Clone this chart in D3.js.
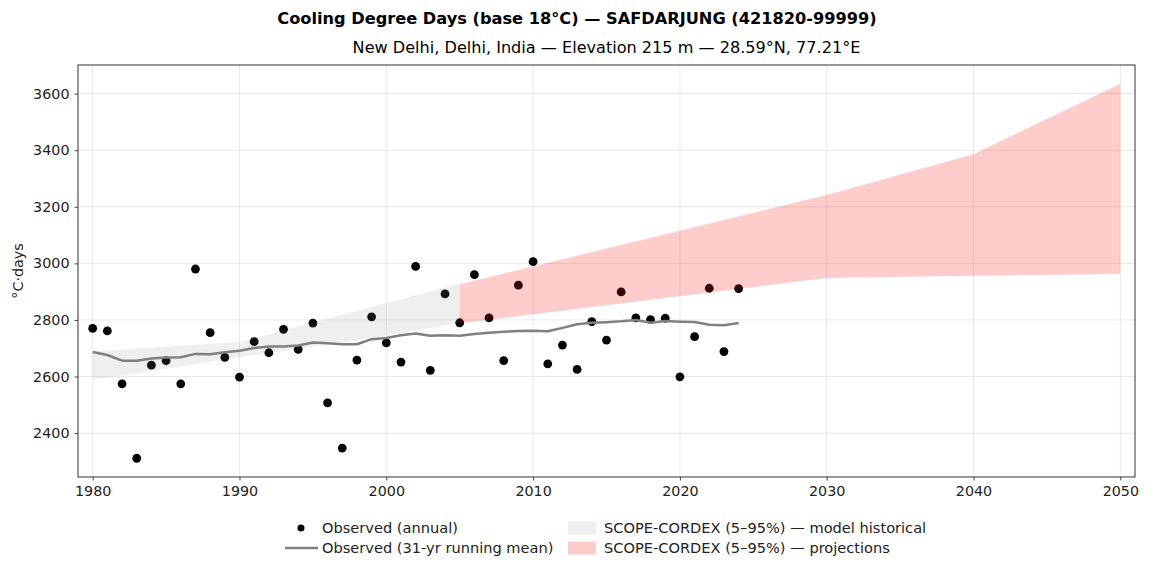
<!DOCTYPE html>
<html>
<head>
<meta charset="utf-8">
<script src="https://cdn.jsdelivr.net/npm/d3@7"></script>
<style>
  body { margin: 0; background: #fff; }
  svg { display: block; font-family: "DejaVu Sans", sans-serif; }
</style>
</head>
<body>
<svg id="chart" width="1155" height="577"></svg>
<script>
// ---- Data ----
const obsYears = [1980,1981,1982,1983,1984,1985,1986,1987,1988,1989,1990,1991,1992,1993,1994,1995,1996,1997,1998,1999,2000,2001,2002,2003,2004,2005,2006,2007,2008,2009,2010,2011,2012,2013,2014,2015,2016,2017,2018,2019,2020,2021,2022,2023,2024];
const obsValues = [2770,2761,2574,2311,2640,2656,2574,2980,2755,2668,2598,2723,2684,2767,2696,2789,2507,2347,2658,2811,2719,2651,2989,2622,2892,2790,2960,2807,2656,2923,3006,2645,2711,2625,2794,2729,2899,2807,2801,2806,2599,2741,2912,2688,2911];
const meanValues = [2687,2676,2656,2656,2664,2667,2668,2680,2679,2686,2691,2701,2706,2706,2710,2720,2718,2714,2714,2732,2736,2746,2752,2744,2746,2744,2750,2755,2758,2761,2762,2760,2772,2785,2790,2792,2795,2800,2790,2796,2794,2793,2783,2781,2789];
const histYears = [1980,1990,2000,2005];
const histLow = [2588,2668,2745,2790];
const histHigh = [2688,2722,2860,2928];
const projYears = [2005,2030,2040,2050];
const projLow = [2788,2948,2956,2962];
const projHigh = [2926,3242,3386,3635];
const xTicks = [1980,1990,2000,2010,2020,2030,2040,2050];
const yTicks = [2400,2600,2800,3000,3200,3400,3600];
const titleText = "Cooling Degree Days (base 18°C) — SAFDARJUNG (421820-99999)";
const subtitleText = "New Delhi, Delhi, India — Elevation 215 m — 28.59°N, 77.21°E";
const yLabel = "°C·days";
const legendItems = ["Observed (annual)", "Observed (31-yr running mean)", "SCOPE-CORDEX (5–95%) — model historical", "SCOPE-CORDEX (5–95%) — projections"];

// ---- Layout ----
const svg = d3.select("#chart");
const L = 78, R = 1135, T = 65, B = 477;
const x = d3.scaleLinear().domain([1979, 2051]).range([L, R]);
const allY = obsValues.concat(projHigh, projLow, histLow, histHigh);
const yMin = d3.min(allY), yMax = d3.max(allY), pad = (yMax - yMin) * 0.05;
const y = d3.scaleLinear().domain([yMin - pad, yMax + pad]).range([B, T]);

// grid
const grid = svg.append("g");
grid.selectAll(".gx").data(xTicks).join("line")
  .attr("x1", d => x(d)).attr("x2", d => x(d)).attr("y1", T).attr("y2", B)
  .attr("stroke", "#b0b0b0").attr("stroke-opacity", 0.35).attr("stroke-width", 0.8);
grid.selectAll(".gy").data(yTicks).join("line")
  .attr("x1", L).attr("x2", R).attr("y1", d => y(d)).attr("y2", d => y(d))
  .attr("stroke", "#b0b0b0").attr("stroke-opacity", 0.35).attr("stroke-width", 0.8);

// observed points
svg.append("g").selectAll("circle").data(obsYears).join("circle")
  .attr("cx", (d) => x(d)).attr("cy", (d, i) => y(obsValues[i])).attr("r", 4.4)
  .attr("fill", "#000");

// running mean
const line = d3.line().x((d, i) => x(obsYears[i])).y(d => y(d));
svg.append("path").datum(meanValues).attr("d", line)
  .attr("fill", "none").attr("stroke", "#808080").attr("stroke-width", 2.5)
  .attr("stroke-linejoin", "round");

// bands
const histArea = d3.area().x((d, i) => x(histYears[i])).y0((d, i) => y(histLow[i])).y1(d => y(d));
svg.append("path").datum(histHigh).attr("d", histArea)
  .attr("fill", "rgb(128,128,128)").attr("fill-opacity", 0.13);
const projArea = d3.area().x((d, i) => x(projYears[i])).y0((d, i) => y(projLow[i])).y1(d => y(d));
svg.append("path").datum(projHigh).attr("d", projArea)
  .attr("fill", "rgb(255,0,0)").attr("fill-opacity", 0.2);

// axes
const xAxis = svg.append("g").attr("transform", `translate(0,${B})`)
  .call(d3.axisBottom(x).tickValues(xTicks).tickFormat(d3.format("d")).tickSizeOuter(0).tickSize(3.5).tickPadding(5));
const yAxis = svg.append("g").attr("transform", `translate(${L},0)`)
  .call(d3.axisLeft(y).tickValues(yTicks).tickFormat(d3.format("d")).tickSizeOuter(0).tickSize(3.5).tickPadding(5));
[xAxis, yAxis].forEach(g => {
  g.select(".domain").remove();
  g.selectAll("text").attr("font-size", 14.3).attr("fill", "#222").attr("font-family", "DejaVu Sans");
  g.selectAll("line").attr("stroke", "#333").attr("stroke-width", 0.9);
});

// frame
svg.append("rect").attr("x", L).attr("y", T).attr("width", R - L).attr("height", B - T)
  .attr("fill", "none").attr("stroke", "#333").attr("stroke-width", 1);

// titles
svg.append("text").attr("x", 577).attr("y", 24).attr("text-anchor", "middle")
  .attr("font-size", 16.2).attr("font-weight", "bold").attr("fill", "#000").text(titleText);
svg.append("text").attr("x", (L + R) / 2).attr("y", 53).attr("text-anchor", "middle")
  .attr("font-size", 16.1).attr("fill", "#000").text(subtitleText);
svg.append("text").attr("transform", `translate(23,${(T + B) / 2}) rotate(-90)`)
  .attr("text-anchor", "middle").attr("font-size", 14.3).attr("fill", "#222").text(yLabel);

// legend
const lg = svg.append("g").attr("font-size", 14.6).attr("fill", "#222");
const row1 = 528, row2 = 548;
lg.append("circle").attr("cx", 301).attr("cy", row1).attr("r", 3.5).attr("fill", "#000");
lg.append("line").attr("x1", 285).attr("x2", 318).attr("y1", row2).attr("y2", row2)
  .attr("stroke", "#808080").attr("stroke-width", 2.5);
lg.append("rect").attr("x", 568).attr("y", row1 - 6.5).attr("width", 28).attr("height", 13)
  .attr("fill", "rgb(128,128,128)").attr("fill-opacity", 0.13);
lg.append("rect").attr("x", 568).attr("y", row2 - 6.5).attr("width", 28).attr("height", 13)
  .attr("fill", "rgb(255,0,0)").attr("fill-opacity", 0.2);
const lpos = [[322, row1], [322, row2], [604, row1], [604, row2]];
lg.selectAll("text").data(legendItems).join("text")
  .attr("x", (d, i) => lpos[i][0]).attr("y", (d, i) => lpos[i][1]).attr("dy", "0.35em")
  .attr("fill", "#222").text(d => d);
</script>
</body>
</html>
